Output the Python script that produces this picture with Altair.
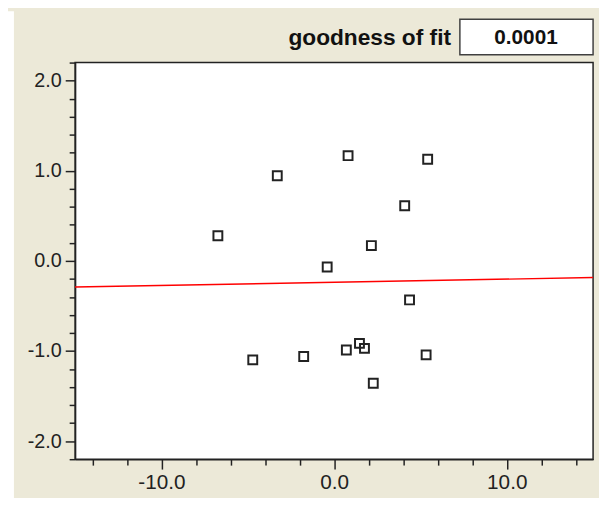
import altair as alt
import pandas as pd

# data
pt_x = [-3.29, -6.73, -0.40, 0.81, 5.42, 4.09, 2.16, -4.71, -1.76, 4.37, 0.71, 1.47, 1.76, 5.33, 2.27]
pt_y = [0.945, 0.279, -0.068, 1.167, 1.127, 0.612, 0.170, -1.098, -1.061, -0.433, -0.988, -0.915, -0.970, -1.043, -1.357]
fit_x = [-15.0, 15.0]
fit_y = [-0.29, -0.185]
x_ticks = [-14, -12, -10, -8, -6, -4, -2, 0, 2, 4, 6, 8, 10, 12, 14]
y_ticks = [round(-2.2 + 0.2 * i, 1) for i in range(23)]
fit_label = ["goodness of fit"]
fit_value = ["0.0001"]

FONT = "Liberation Sans, Arial, sans-serif"
INK = "#222222"
BEIGE = "#ECE9D8"
W, H = 525, 402

xs = alt.Scale(domain=[-15, 15], nice=False, zero=False)
ys = alt.Scale(domain=[-2.2, 2.2], nice=False, zero=False)

XMAJ = "abs(datum.value % 10) < 0.001"
YMAJ = "abs(datum.value - round(datum.value)) < 0.001"
LBL = "(datum.value < -0.001 ? '-' : '') + format(abs(datum.value), '.1f')"

x_axis = alt.Axis(
    values=x_ticks, title=None, grid=False,
    tickSize={"condition": {"test": XMAJ, "value": 10}, "value": 6},
    tickColor=INK, tickWidth=1.5, domainColor=INK, domainWidth=1.5,
    labelExpr=XMAJ + " ? " + LBL + " : ''",
    labelFont=FONT, labelFontSize=21, labelColor=INK, labelPadding=3,
    labelOverlap=False, labelFlush=False, labelBound=False,
)
y_axis = alt.Axis(
    values=y_ticks, title=None, grid=False,
    tickSize={"condition": {"test": YMAJ, "value": 10}, "value": 6},
    tickColor=INK, tickWidth=1.5, domainColor=INK, domainWidth=1.5,
    labelExpr=YMAJ + " ? " + LBL + " : ''",
    labelFont=FONT, labelFontSize=20, labelColor=INK, labelPadding=4,
    labelOverlap=False, labelFlush=False, labelBound=False,
)

pts = pd.DataFrame({"x": pt_x, "y": pt_y})
fit = pd.DataFrame({"x": fit_x, "y": fit_y})

points = alt.Chart(pts).mark_point(
    shape="square", filled=False, size=81, strokeWidth=2, color=INK, opacity=1
).encode(
    x=alt.X("x:Q", scale=xs, axis=x_axis),
    y=alt.Y("y:Q", scale=ys, axis=y_axis),
)

line = alt.Chart(fit).mark_line(color="#FF0000", strokeWidth=1.5).encode(
    x=alt.X("x:Q", scale=xs, axis=x_axis),
    y=alt.Y("y:Q", scale=ys, axis=y_axis),
)

one = pd.DataFrame({"label": fit_label, "value": fit_value})

strip = alt.Chart(one).mark_rect(fill="white", strokeWidth=0).encode(
    x=alt.value(-68), x2=alt.value(-62), y=alt.value(-52), y2=alt.value(H + 40)
)

box = alt.Chart(one).mark_rect(fill="white", stroke="#404040", strokeWidth=1.5).encode(
    x=alt.value(390), x2=alt.value(525), y=alt.value(-44), y2=alt.value(-8)
)

lab = alt.Chart(one).mark_text(
    align="right", baseline="middle", font=FONT, fontSize=23, fontWeight="bold", color="#111111"
).encode(x=alt.value(381), y=alt.value(-25), text="label:N")

val = alt.Chart(one).mark_text(
    align="center", baseline="middle", font=FONT, fontSize=21, fontWeight="bold", color="#111111"
).encode(x=alt.value(457), y=alt.value(-25), text="value:N")

chart = alt.layer(line, points, strip, box, lab, val).properties(
    width=W, height=H,
    padding={"left": 68, "top": 52, "right": 6, "bottom": 36},
    autosize=alt.AutoSizeParams(type="none"),
    background=BEIGE,
).configure_view(stroke=INK, strokeWidth=1.5, fill="white")

chart.save("out.html", embed_options={"renderer": "svg", "actions": False})
